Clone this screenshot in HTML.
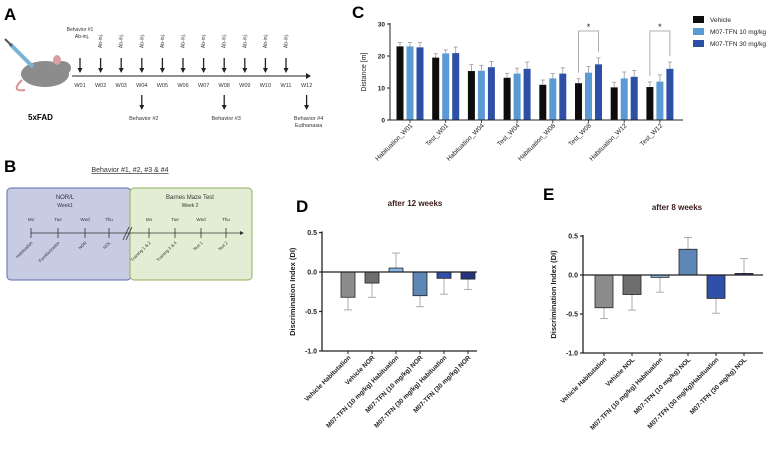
<!DOCTYPE html>
<html><head><meta charset="utf-8"><style>
body{margin:0;background:#fff;}
svg{display:block;font-family:"Liberation Sans",Arial,sans-serif;}
</style></head><body>
<svg id="fig" width="778" height="465" viewBox="0 0 778 465">
<!-- Panel A -->
<g>
<text x="4" y="20" font-size="17" font-weight="bold">A</text>
<g>
<ellipse cx="45" cy="74" rx="24" ry="13" fill="#8c8c8c"/>
<ellipse cx="62" cy="68" rx="9" ry="7" fill="#8c8c8c"/>
<ellipse cx="57" cy="60" rx="4" ry="5" fill="#d9a0a0"/>
<path d="M22 80 Q10 92 25 90" stroke="#d99090" stroke-width="2" fill="none"/>
<line x1="10" y1="44" x2="33" y2="67" stroke="#7ab3d6" stroke-width="4"/>
<line x1="5" y1="39" x2="12" y2="46" stroke="#555" stroke-width="2"/>
</g>
<text x="28" y="120" font-size="8" font-weight="bold">5xFAD</text>
<g id="timelineA"></g>
</g>
<!-- Panel B -->
<g>
<text x="4" y="172" font-size="17" font-weight="bold">B</text>
<text x="130" y="172" font-size="7" text-anchor="middle" text-decoration="underline" fill="#333">Behavior #1, #2, #3 &amp; #4</text>
<rect x="7" y="188" width="124" height="92" rx="4" fill="#c7cbe4" stroke="#5b6db5" stroke-width="1"/>
<rect x="130" y="188" width="122" height="92" rx="4" fill="#e3edd3" stroke="#8db05a" stroke-width="1"/>
<text x="65" y="199" font-size="6" text-anchor="middle" fill="#333">NOR/L</text>
<text x="65" y="207" font-size="5" text-anchor="middle" fill="#333">Week1</text>
<text x="190" y="199" font-size="6" text-anchor="middle" fill="#333">Barnes Maze Test</text>
<text x="190" y="207" font-size="5" text-anchor="middle" fill="#333">Week 2</text>
<g id="timelineB"></g>
</g>
<!-- Panel C -->
<g>
<text x="352" y="18" font-size="17" font-weight="bold">C</text>
<g id="chartC"></g>
</g>
<!-- Panel D -->
<g>
<text x="296" y="212" font-size="17" font-weight="bold">D</text>
<text x="415" y="206" font-size="8" font-weight="bold" text-anchor="middle" fill="#3a1a1a">after 12 weeks</text>
<g id="chartD"></g>
</g>
<!-- Panel E -->
<g>
<text x="543" y="200" font-size="17" font-weight="bold">E</text>
<text x="677" y="210" font-size="8" font-weight="bold" text-anchor="middle" fill="#3a1a1a">after 8 weeks</text>
<g id="chartE"></g>
</g>
</svg>
<script>
const NS="http://www.w3.org/2000/svg";
function mk(parent,tag,attrs,txt){const e=document.createElementNS(NS,tag);for(const k in attrs)e.setAttribute(k,attrs[k]);if(txt!==undefined)e.textContent=txt;parent.appendChild(e);return e;}

// ---------- Panel A timeline ----------
const weeks=["W01","W02","W03","W04","W05","W06","W07","W08","W09","W10","W11","W12"];
const behaviorWeeks=[{w:3,t:["Behavior #2"]},{w:7,t:["Behavior #3"]},{w:11,t:["Behavior #4","Euthanasia"]}];
(function(){
const g=document.getElementById('timelineA');
const x0=80,dx=20.6;
mk(g,'line',{x1:72,y1:76,x2:306,y2:76,stroke:'#222','stroke-width':1});
mk(g,'path',{d:'M306 73 L311 76 L306 79 Z',fill:'#222'});
weeks.forEach((w,i)=>{
 const x=x0+i*dx;
 const t=mk(g,'text',{x:x,y:87,'font-size':5.5,'text-anchor':'middle',fill:'#333'},w);
 
 
 if(i<11){
  mk(g,'line',{x1:x,y1:58,x2:x,y2:69,stroke:'#222','stroke-width':1.3});
  mk(g,'path',{d:`M${x-2.5} 68 L${x+2.5} 68 L${x} 73 Z`,fill:'#222'});
  if(i>0){mk(g,'text',{x:0,y:0,'font-size':5,fill:'#333','text-anchor':'middle',transform:`translate(${x+1.5},41) rotate(-90)`},'Ab-inj.');}
 }
});
mk(g,'text',{x:80,y:31,'font-size':5,'text-anchor':'middle',fill:'#333'},'Behavior #1');
mk(g,'text',{x:82,y:38,'font-size':5,'text-anchor':'middle',fill:'#333'},'Ab-inj.');
behaviorWeeks.forEach(b=>{
 const x=x0+b.w*dx;
 mk(g,'line',{x1:x,y1:95,x2:x,y2:106,stroke:'#222','stroke-width':1.3});
 mk(g,'path',{d:`M${x-2.5} 105 L${x+2.5} 105 L${x} 110 Z`,fill:'#222'});
 b.t.forEach((s,j)=>mk(g,'text',{x:x+2,y:120+j*7,'font-size':5.5,'text-anchor':'middle',fill:'#333'},s));
});
})();

// ---------- Panel B timeline ----------
const days=["Mo","Tue","Wed","Thu","Mo","Tue","Wed","Thu"];
const dayTasks=["Habituation","Familiarization","NOR","NOL","Training 1 & 2","Training 3 & 4","Test 1","Test 2"];
(function(){
const g=document.getElementById('timelineB');
const xs=[31,58,85,109,149,175,201,226];
mk(g,'line',{x1:31,y1:233,x2:240,y2:233,stroke:'#333','stroke-width':0.8});
mk(g,'path',{d:'M240 231 L244 233 L240 235 Z',fill:'#333'});
mk(g,'line',{x1:123,y1:240,x2:129,y2:227,stroke:'#333','stroke-width':0.8});
mk(g,'line',{x1:126,y1:240,x2:132,y2:227,stroke:'#333','stroke-width':0.8});
xs.forEach((x,i)=>{
 mk(g,'line',{x1:x,y1:228,x2:x,y2:238,stroke:'#333','stroke-width':0.8});
 mk(g,'text',{x:x,y:221,'font-size':4.5,'text-anchor':'middle',fill:'#333'},days[i]);
 mk(g,'text',{x:0,y:0,'font-size':4.3,'text-anchor':'end',fill:'#333',transform:`translate(${x+2},243) rotate(-45)`},dayTasks[i]);
});
})();

// ---------- Panel C ----------
const cCategories=["Habituation_W01","Test_W01","Habituation_W04","Test_W04","Habituation_W08","Test_W08","Habituation_W12","Test_W12"];
const cVehicle=[23,19.5,15.3,13.2,11,11.5,10.2,10.3];
const cVehicleErr=[1.2,1.2,2,1.4,1.5,1.4,1.6,1.6];
const c10=[23,20.8,15.4,14.5,13,14.8,13,12];
const c10Err=[1.2,1.1,1.7,1.7,1.5,1.9,2,2.1];
const c30=[22.7,20.9,16.5,16,14.5,17.4,13.5,16];
const c30Err=[1.5,1.9,1.8,2.1,1.8,2,2,2.1];
const cTicks=[0,10,20,30];
const cSeriesNames=["Vehicle","M07-TFN 10 mg/kg","M07-TFN 30 mg/kg"];
(function(){
const g=document.getElementById('chartC');
const ax=390,y0=120,y1=24,xEnd=683;
const ys=v=>y0-(v/30)*(y0-y1);
const gx=i=>410+i*35.7;
const colors=["#0d0d0d","#5b9bd5","#2d4fa6"];
const series=[[cVehicle,cVehicleErr],[c10,c10Err],[c30,c30Err]];
cCategories.forEach((c,i)=>{
 series.forEach((s,k)=>{
  const cx=gx(i)+(k-1)*10, v=s[0][i], e=s[1][i];
  const r=mk(g,'rect',{x:cx-3.5,y:ys(v),width:7,height:y0-ys(v),fill:colors[k]});
  
  
  mk(g,'line',{x1:cx,y1:ys(v),x2:cx,y2:ys(v+e),stroke:'#999','stroke-width':0.8});
  mk(g,'line',{x1:cx-2,y1:ys(v+e),x2:cx+2,y2:ys(v+e),stroke:'#999','stroke-width':0.8});
 });
 mk(g,'line',{x1:gx(i),y1:y0,x2:gx(i),y2:y0+3,stroke:'#222','stroke-width':0.8});
 const t=mk(g,'text',{x:0,y:0,'font-size':6.5,'text-anchor':'end',fill:'#222',transform:`translate(${gx(i)+3},${y0+6}) rotate(-45)`},c);
 
 
});
mk(g,'line',{x1:ax,y1:y1-1,x2:ax,y2:y0,stroke:'#222','stroke-width':1});
mk(g,'line',{x1:ax,y1:y0,x2:xEnd,y2:y0,stroke:'#222','stroke-width':1});
cTicks.forEach(t=>{
 mk(g,'line',{x1:ax-3,y1:ys(t),x2:ax,y2:ys(t),stroke:'#222','stroke-width':1});
 mk(g,'text',{x:ax-5,y:ys(t)+2.5,'font-size':6.5,'font-weight':'bold','text-anchor':'end',fill:'#222'},t);
});
const yl=mk(g,'text',{x:0,y:0,'font-size':7,'text-anchor':'middle',fill:'#222',transform:'translate(366,72) rotate(-90)'},'Distance [m]');


// significance brackets
[5,7].forEach(i=>{
 const xl=gx(i)-10,xr=gx(i)+10,yt=31;
 mk(g,'path',{d:`M${xl} ${ys(series[0][0][i]+series[0][1][i])-6} L${xl} ${yt} L${xr} ${yt} L${xr} ${ys(series[2][0][i]+series[2][1][i])-6}`,fill:'none',stroke:'#999','stroke-width':0.8});
 const s=mk(g,'text',{x:gx(i),y:30,'font-size':9,'text-anchor':'middle',fill:'#222'},'*');
 
 
});
cSeriesNames.forEach((n,k)=>{
 const sw=mk(g,'rect',{x:693,y:16+k*12,width:11,height:7,fill:colors[k]});
 
 
 const t=mk(g,'text',{x:710,y:22+k*12,'font-size':6.5,fill:'#222'},n);
 
 
});
})();

// ---------- Panels D & E ----------
const dCategories=["Vehicle Habitutation","Vehicle NOR","M07-TFN (10 mg/kg) Habituation","M07-TFN (10 mg/kg) NOR","M07-TFN (30 mg/kg) Habituation","M07-TFN  (30 mg/kg) NOR"];
const dValues=[-0.32,-0.14,0.05,-0.3,-0.08,-0.09];
const dErrors=[0.16,0.18,0.19,0.14,0.2,0.13];
const eCategories=["Vehicle Habitutation","Vehicle NOL","M07-TFN (10 mg/kg) Habituation","M07-TFN (10 mg/kg) NOL","M07-TFN (30 mg/kg)Habituation","M07-TFN (30 mg/kg) NOL"];
const eValues=[-0.42,-0.25,-0.03,0.33,-0.3,0.02];
const eErrors=[0.14,0.2,0.19,0.15,0.19,0.19];
const diTicks=[0.5,0.0,-0.5,-1.0];
const diFills=["#8c8c8c","#6e6e6e","#86b6e6","#5e86b6","#2f4fa8","#27337d"];
function drawDI(id,cats,vals,errs,o){
 const g=document.getElementById(id);
 const ys=v=>o.y0-v*o.k;
 const xs=i=>o.bx0+i*o.dx;
 const yb=ys(-1);
 cats.forEach((c,i)=>{
  const v=vals[i],e=errs[i],cx=xs(i);
  const top=Math.min(ys(v),ys(0)),h=Math.abs(ys(v)-ys(0));
  const ye=v>=0?ys(v+e):ys(v-e);
  mk(g,'line',{x1:cx,y1:ys(v),x2:cx,y2:ye,stroke:'#999','stroke-width':0.8});
  mk(g,'line',{x1:cx-4,y1:ye,x2:cx+4,y2:ye,stroke:'#999','stroke-width':0.8});
  const r=mk(g,'rect',{x:cx-o.w/2,y:top,width:o.w,height:Math.max(h,1),fill:diFills[i],stroke:'#222','stroke-width':0.8});
  
  
  mk(g,'line',{x1:cx,y1:yb,x2:cx,y2:yb+3,stroke:'#222','stroke-width':1});
  const t=mk(g,'text',{x:0,y:0,'font-size':6.5,'font-weight':'bold','text-anchor':'end',fill:'#222',transform:`translate(${cx+3},${yb+7}) rotate(-45)`},c);
  
  
 });
 mk(g,'line',{x1:o.ax,y1:ys(0.5)-1,x2:o.ax,y2:yb,stroke:'#222','stroke-width':1.3});
 mk(g,'line',{x1:o.ax,y1:yb,x2:o.xEnd,y2:yb,stroke:'#222','stroke-width':1.3});
 mk(g,'line',{x1:o.ax,y1:ys(0),x2:o.xEnd,y2:ys(0),stroke:'#222','stroke-width':1.3});
 diTicks.forEach(t=>{
  mk(g,'line',{x1:o.ax-3,y1:ys(t),x2:o.ax,y2:ys(t),stroke:'#222','stroke-width':1.2});
  mk(g,'text',{x:o.ax-5,y:ys(t)+2.5,'font-size':7,'font-weight':'bold','text-anchor':'end',fill:'#222'},t.toFixed(1));
 });
 const yl=mk(g,'text',{x:0,y:0,'font-size':7.5,'font-weight':'bold','text-anchor':'middle',fill:'#222',transform:`translate(${o.ax-27},${ys(-0.25)}) rotate(-90)`},'Discrimination Index (DI)');
 
 
}
drawDI('chartD',dCategories,dValues,dErrors,{ax:322,y0:272,k:79,bx0:348,dx:24,w:14,xEnd:477});
drawDI('chartE',eCategories,eValues,eErrors,{ax:583,y0:275,k:78,bx0:604,dx:28,w:18,xEnd:763});
</script>
</body></html>
